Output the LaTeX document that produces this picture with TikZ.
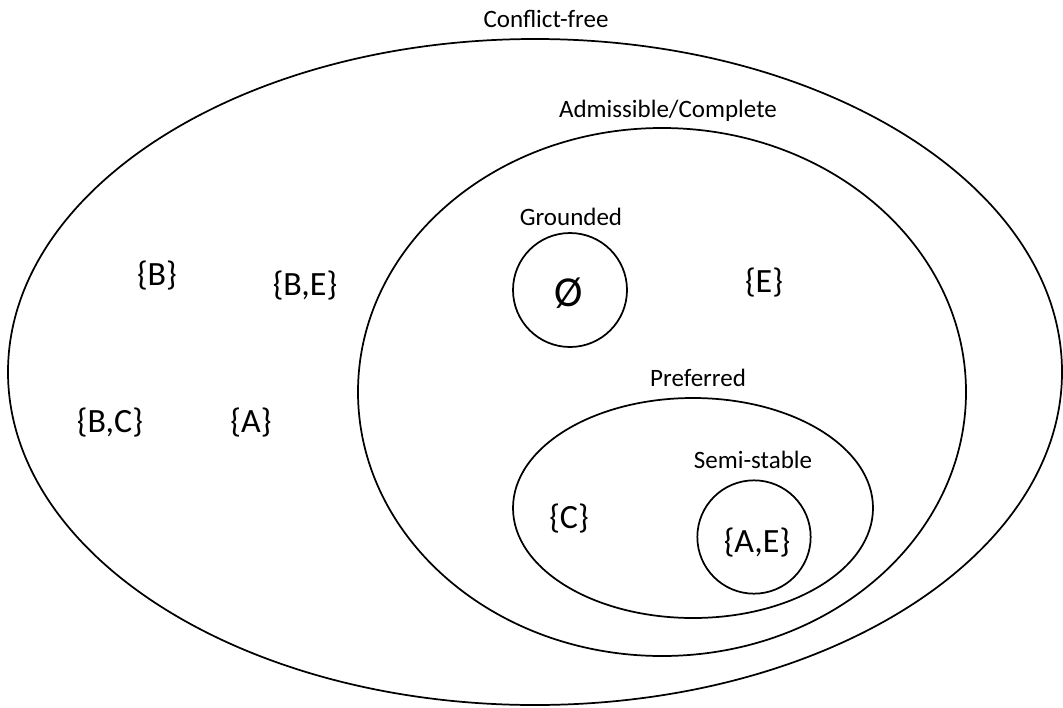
\documentclass[tikz,border=0pt]{standalone}
\usepackage{fontspec}
\setmainfont{Carlito}
\usetikzlibrary{shapes.geometric}
\begin{document}
% one unit = one pixel (0.75pt), y grows downward
\begin{tikzpicture}[x=0.75pt, y=-0.75pt,
  region/.style={draw, line width=1.3pt, inner sep=0pt},
  oval/.style={region, ellipse},
  ring/.style={region, circle},
  setlabel/.style={anchor=base, inner sep=0pt, font=\fontsize{18.75pt}{22pt}\selectfont},
  member/.style={anchor=base, inner sep=0pt, font=\fontsize{25.5pt}{30pt}\selectfont}]
\useasboundingbox (0,0) rectangle (1063,707);

% nested extensions
\node[oval, minimum width=790.5pt, minimum height=499.5pt] (cf) at (535,372) {};
\node[oval, minimum width=456pt, minimum height=396pt] (adm) at (662,392) {};
\node[ring, minimum size=85.5pt] (gr) at (570,290) {};
\node[oval, minimum width=270pt, minimum height=165pt] (pref) at (693,508) {};
\node[ring, minimum size=85pt] (semi) at (754,537) {};

% region names
\node[setlabel] (cfl) at (546,27) {Conflict-free};
\node[setlabel] (adml) at (668,117) {Admissible/Complete};
\node[setlabel] (grl) at (571,225) {Grounded};
\node[setlabel] (prefl) at (698,386) {Preferred};
\node[setlabel] (semil) at (753,468) {Semi-stable};

% argument sets
\node[member] (sB) at (157,285) {\{B\}};
\node[member] (sBE) at (305,295) {\{B,E\}};
\node[member] (sBC) at (110,432) {\{B,C\}};
\node[member] (sA) at (251,432) {\{A\}};
\node[member, font=\fontsize{32pt}{36pt}\selectfont] (sEmpty) at (569,306) {Ø};
\node[member] (sE) at (764,292) {\{E\}};
\node[member] (sC) at (569,528) {\{C\}};
\node[member] (sAE) at (757,552) {\{A,E\}};
\end{tikzpicture}
\end{document}
